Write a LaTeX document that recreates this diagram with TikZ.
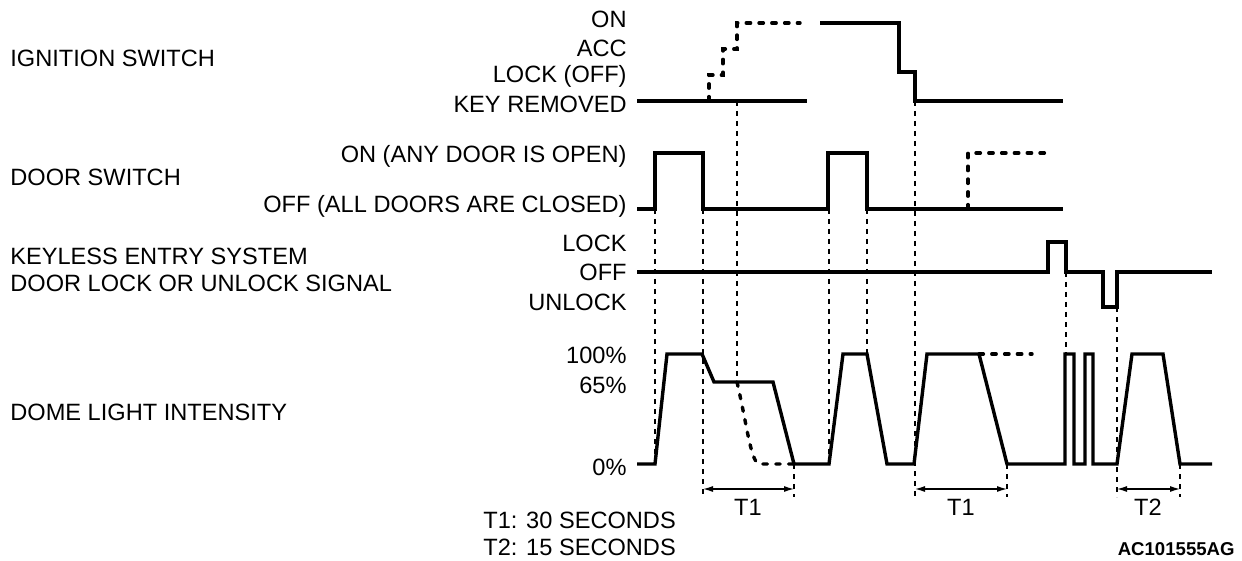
\documentclass[tikz,border=0pt]{standalone}
\usepackage{fontspec}
\setmainfont{Liberation Sans}
\usetikzlibrary{arrows.meta}

\begin{document}
\begin{tikzpicture}[x=0.5pt,y=-0.5pt,
  lbl/.style={inner sep=0pt,font=\fontsize{11.8}{14}\selectfont},
  trace/.style={line width=1.7pt,line join=miter},
  tracedash/.style={line width=1.7pt,line cap=round,dash pattern=on 2.2pt off 4.2pt},
  guide/.style={line width=0.55pt,dash pattern=on 2.5pt off 2.5pt},
  span/.style={line width=0.6pt,{Latex[length=5pt,width=3pt]}-{Latex[length=5pt,width=3pt]}}]
\useasboundingbox (0,0) rectangle (1242,561);

% signal names
\node[lbl,anchor=base west] (ign) at (10,67) {IGNITION SWITCH};
\node[lbl,anchor=base west] (door) at (10,186) {DOOR SWITCH};
\node[lbl,anchor=base west] (kes) at (10,264) {KEYLESS ENTRY SYSTEM};
\node[lbl,anchor=base west] (kessig) at (10,292) {DOOR LOCK OR UNLOCK SIGNAL};
\node[lbl,anchor=base west] (dome) at (10,420) {DOME LIGHT INTENSITY};

% levels
\node[lbl,anchor=base east] (ignon) at (627,28) {ON};
\node[lbl,anchor=base east] (ignacc) at (627,57) {ACC};
\node[lbl,anchor=base east] (ignlock) at (627,83) {LOCK (OFF)};
\node[lbl,anchor=base east] (ignkey) at (627,113) {KEY REMOVED};
\node[lbl,anchor=base east] (dooron) at (627,163) {ON (ANY DOOR IS OPEN)};
\node[lbl,anchor=base east] (dooroff) at (627,213) {OFF (ALL DOORS ARE CLOSED)};
\node[lbl,anchor=base east] (keslock) at (627,252) {LOCK};
\node[lbl,anchor=base east] (kesoff) at (627,281) {OFF};
\node[lbl,anchor=base east] (kesunlock) at (627,311) {UNLOCK};
\node[lbl,anchor=base east] (dome100) at (627,364) {100\%};
\node[lbl,anchor=base east] (dome65) at (627,393) {65\%};
\node[lbl,anchor=base east] (dome0) at (627,475) {0\%};

% ignition switch
\draw[trace] (637,101) -- (807,101);
\draw[tracedash] (709,101) -- (709,75) -- (723,75) -- (723,49) -- (737,49) -- (737,23) -- (800,23);
\draw[trace] (820,23) -- (899,23) -- (899,72) -- (915,72) -- (915,101) -- (1063,101);

% door switch
\draw[trace] (637,209) -- (655,209) -- (655,153) -- (703,153) -- (703,209) -- (828,209)
  -- (828,153) -- (867,153) -- (867,209) -- (1063,209);
\draw[tracedash] (968,209) -- (968,153) -- (1048,153);

% keyless entry
\draw[trace] (637,272) -- (1048,272) -- (1048,242) -- (1066,242) -- (1066,272) -- (1103,272)
  -- (1103,307) -- (1117,307) -- (1117,272) -- (1212,272);

% dome light
\draw[trace] (637,464) -- (655,464) -- (667,354) -- (702,354) -- (714,382) -- (773,382)
  -- (794,464) -- (829,464) -- (843,354) -- (867,354) -- (887,464) -- (914,464)
  -- (927,354) -- (979,354) -- (1007,464) -- (1065,464) -- (1065,354) -- (1074,354)
  -- (1074,464) -- (1085,464) -- (1085,354) -- (1093,354) -- (1093,464) -- (1117,464)
  -- (1132,354) -- (1163,354) -- (1180,464) -- (1212,464);
\draw[tracedash] (737,382) .. controls (748,430) and (751,464) .. (760,464) -- (794,464);
\draw[tracedash] (979,354) -- (1032,354);

% timing guides
\foreach \gx/\gtop/\gbot in {655/209/464, 703/209/497, 737/101/382, 829/209/464,
  867/209/354, 915/101/497, 1066/272/354, 1117/307/497, 794/464/497, 1007/464/497, 1180/464/497}
  \draw[guide] (\gx,\gtop) -- (\gx,\gbot);

% delays
\coordinate (t1a) at (703,489);
\coordinate (t1b) at (794,489);
\coordinate (t1c) at (915,489);
\coordinate (t1d) at (1007,489);
\coordinate (t2a) at (1117,489);
\coordinate (t2b) at (1180,489);
\draw[span] (t1a) -- (t1b);
\draw[span] (t1c) -- (t1d);
\draw[span] (t2a) -- (t2b);
\node[lbl,anchor=base] (t1l) at (748,515) {T1};
\node[lbl,anchor=base] (t1r) at (961,515) {T1};
\node[lbl,anchor=base] (t2l) at (1148,515) {T2};

\node[lbl,anchor=base west] (t1note) at (483,528) {T1: 30 SECONDS};
\node[lbl,anchor=base west] (t2note) at (483,555) {T2: 15 SECONDS};
\node[inner sep=0pt,anchor=base east,font=\fontsize{9.3}{11}\selectfont\bfseries] (figid) at (1235,555) {AC101555AG};
\end{tikzpicture}
\end{document}
